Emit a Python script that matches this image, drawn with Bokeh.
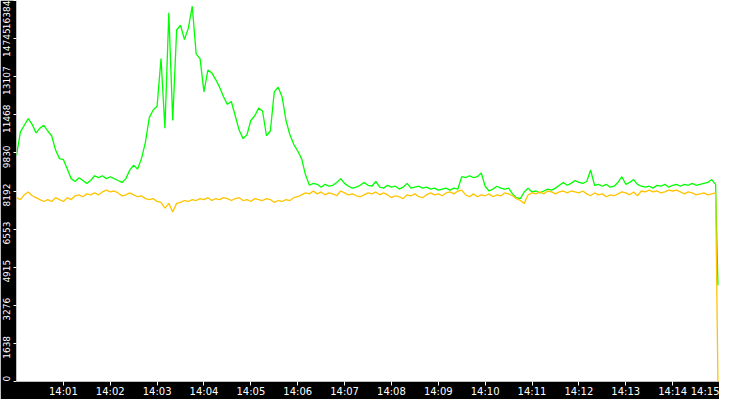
import pandas as pd
from bokeh.plotting import figure
from bokeh.models import FixedTicker, DatetimeTickFormatter, LinearAxis, Range1d
from bokeh.embed import file_html
from bokeh.resources import INLINE

# ---------------- data ----------------
STEP_S = 5          # seconds between samples
END_S = 898         # time of last sample (seconds after 14:00)

green = [
    9708, 10732, 11018, 11305, 11059, 10691, 10895, 11018, 10772, 10568,
    9953, 9585, 9544, 9134, 8724, 8602, 8765, 8643, 8520, 8643,
    8847, 8765, 8847, 8724, 8806, 8724, 8643, 8561, 8724, 9093,
    9298, 9134, 9585, 10281, 11346, 11674, 11837, 13885, 10895, 15852,
    11223, 15114, 15319, 14705, 15196, 16138, 14090, 13885, 12452, 13394,
    13271, 12984, 12657, 12247, 11919, 12042, 11428, 10813, 10445, 10609,
    11223, 11428, 11756, 11633, 10568, 10772, 12452, 12657, 12247, 11223,
    10609, 10199, 9912, 9585, 8888, 8438, 8520, 8479, 8356, 8479,
    8397, 8438, 8561, 8724, 8520, 8397, 8315, 8356, 8438, 8561,
    8438, 8397, 8602, 8356, 8315, 8438, 8356, 8397, 8274, 8356,
    8520, 8315, 8356, 8397, 8315, 8356, 8274, 8315, 8233, 8274,
    8315, 8233, 8315, 8274, 8806, 8765, 8847, 8765, 8806, 8970,
    8397, 8192, 8274, 8397, 8315, 8274, 8315, 8069, 7905, 7864,
    8151, 8315, 8151, 8192, 8110, 8192, 8274, 8233, 8315, 8438,
    8561, 8438, 8520, 8643, 8561, 8520, 8602, 9093, 8438, 8479,
    8397, 8479, 8356, 8397, 8561, 8806, 8479, 8561, 8684, 8479,
    8397, 8356, 8397, 8315, 8438, 8397, 8479, 8356, 8438, 8479,
    8397, 8479, 8438, 8520, 8438, 8479, 8520, 8561, 8684, 8479,
]
green_end = 4137

orange = [
    7905, 7823, 8028, 8151, 7987, 7905, 7823, 7741, 7823, 7741,
    7905, 7823, 7741, 7905, 7823, 7987, 8028, 7946, 8069, 8028,
    8110, 8028, 8151, 8233, 8151, 8192, 8110, 7987, 8028, 8110,
    8028, 7946, 7987, 7864, 7823, 7864, 7741, 7700, 7455, 7660,
    7291, 7660, 7700, 7782, 7741, 7823, 7782, 7864, 7823, 7905,
    7782, 7864, 7823, 7905, 7864, 7782, 7864, 7905, 7782, 7823,
    7741, 7864, 7823, 7782, 7864, 7823, 7700, 7782, 7741, 7823,
    7782, 7905, 7946, 8028, 8110, 8069, 8192, 8069, 8151, 8028,
    8110, 8069, 7987, 8192, 8110, 8028, 8069, 7987, 7946, 8028,
    8110, 8069, 8151, 8028, 8110, 8028, 7905, 7987, 7946, 7864,
    8028, 7987, 8069, 7946, 7905, 8028, 8110, 8028, 8069, 7987,
    8110, 8151, 8069, 8192, 8233, 8028, 7946, 8069, 7946, 8028,
    7987, 8069, 7946, 8028, 7987, 8110, 8069, 7987, 7864, 7782,
    7660, 8028, 8110, 8069, 8151, 8069, 8192, 8151, 8069, 8151,
    8192, 8110, 8192, 8151, 8110, 8192, 8069, 7987, 8110, 8028,
    8069, 7946, 8028, 7987, 8069, 8151, 8110, 8028, 8151, 7987,
    8192, 8151, 8233, 8151, 8192, 8110, 8151, 8233, 8192, 8233,
    8151, 8069, 8151, 8110, 8028, 8069, 8110, 8028, 8069, 8110,
]
orange_end = 0

y_ticks = [0, 1638.4, 3276.8, 4915.2, 6553.6, 8192, 9830.4, 11468.8, 13107.2, 14745.6, 16384]
y_tick_labels = ["0", "1638", "3276", "4915", "6553", "8192", "9830", "11468", "13107", "14745", "16384"]
x_tick_minutes = list(range(1, 16))
Y_MAX = 16384

# ---------------- build ----------------
t0 = pd.Timestamp("2024-01-01 14:00:00")
times = [t0 + pd.Timedelta(seconds=STEP_S * i) for i in range(len(green))]
times.append(t0 + pd.Timedelta(seconds=END_S))
g_all = green + [green_end]
o_all = orange + [orange_end]

W, H = 719, 399
LEFT, BOTTOM = 15, 16
FRAME_H = H - BOTTOM

p = figure(width=W, height=H, x_axis_type="datetime", y_axis_location=None,
           x_range=Range1d(t0, t0 + pd.Timedelta(minutes=15)),
           y_range=Range1d(0, Y_MAX),
           output_backend="svg", toolbar_location=None,
           min_border_left=LEFT, min_border_bottom=BOTTOM,
           min_border_top=0, min_border_right=0,
           background_fill_color="white", border_fill_color="black")
p.outline_line_color = None
p.grid.visible = False

epoch = pd.Timestamp("1970-01-01")
x_ticks_ms = [(t0 + pd.Timedelta(minutes=m) - epoch).total_seconds() * 1000 for m in x_tick_minutes]
xa = p.xaxis[0]
xa.ticker = FixedTicker(ticks=x_ticks_ms)
xa.formatter = DatetimeTickFormatter(seconds="%H:%M", minsec="%H:%M", minutes="%H:%M",
                                     hourmin="%H:%M", hours="%H:%M")
xa.axis_line_color = None
xa.major_tick_line_color = "white"
xa.major_tick_out = 4
xa.major_tick_in = 0
xa.minor_tick_line_color = None
xa.major_label_standoff = 0
xa.major_label_text_color = "white"
xa.major_label_text_font = "DejaVu Sans"
xa.major_label_text_font_size = "10px"

# y axis: white tick marks at the true values (drawn as "minor" ticks),
# labels placed a little below each tick, as in the original
upp = Y_MAX / FRAME_H
CHAR_PX = 5.7
SHIFT_PX = 4
label_pos = []
for v, s in zip(y_ticks, y_tick_labels):
    half = len(s) * CHAR_PX / 2 * upp
    pos = v - SHIFT_PX * upp
    pos = min(max(pos, half), Y_MAX - half)
    label_pos.append(round(pos))

ya = LinearAxis(ticker=FixedTicker(ticks=label_pos, minor_ticks=y_ticks),
                major_label_overrides={k: s for k, s in zip(label_pos, y_tick_labels)},
                axis_line_color=None,
                major_tick_line_color=None, major_tick_out=0, major_tick_in=0,
                minor_tick_line_color="white", minor_tick_out=3, minor_tick_in=0,
                major_label_standoff=3, major_label_orientation="vertical",
                major_label_text_color="white", major_label_text_font="DejaVu Sans",
                major_label_text_font_size="9px")
p.add_layout(ya, "left")

p.line(times, g_all, line_color="#00ff00", line_width=1.3)
p.line(times, o_all, line_color="#ffc400", line_width=1.3)

open("out.html", "w").write(file_html(p, INLINE))
